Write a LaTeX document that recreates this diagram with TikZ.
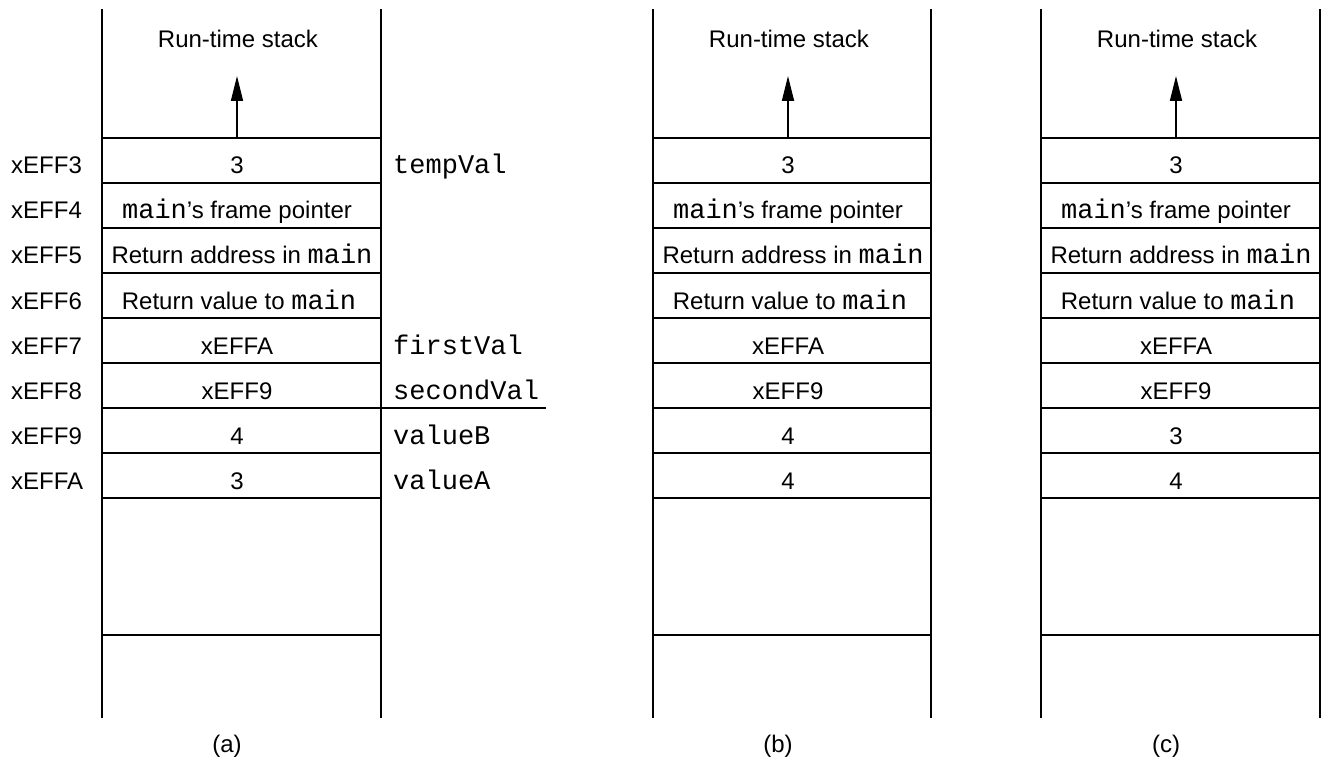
\documentclass[tikz,border=0pt]{standalone}
\usepackage{fontspec}
\setmainfont{Liberation Sans}
\setmonofont{Liberation Mono}
\usetikzlibrary{arrows.meta}
\newcommand\mn[1]{{\fontsize{27}{28}\selectfont\ttfamily #1}}
\begin{document}
\begin{tikzpicture}[x=1pt,y=-1pt,
  rule/.style={line width=1.7pt,line cap=rect},
  cell/.style={inner sep=0pt,anchor=base,font=\fontsize{24}{28}\selectfont},
  addr/.style={inner sep=0pt,anchor=base west,font=\fontsize{24}{28}\selectfont},
  var/.style={inner sep=0pt,anchor=base west,font=\fontsize{27}{28}\selectfont\ttfamily},
  captxt/.style={inner sep=0pt,anchor=base,font=\fontsize{24}{28}\selectfont},
  growarrow/.style={line width=1.7pt,-{Triangle[length=25pt,width=12pt]}}]
\useasboundingbox (0,0) rectangle (1322,759);
% three stacks
\foreach \s/\L/\R/\lab/\ra/\rb in {a/102/381/(a)/4/3, b/653/931/(b)/4/4, c/1041/1320/(c)/3/4}{
  \draw[rule] (\L,10) -- (\L,717);
  \draw[rule] (\R,10) -- (\R,717);
  \foreach \k in {0,...,8}{
    \draw[rule] (\L,138+45*\k) -- (\R,138+45*\k);
  }
  \draw[rule] (\L,635) -- (\R,635);
  \node[cell] (\s title) at (\L+136,48) {Run-time stack};
  \node[cell] (\s0) at (\L+135,174) {3};
  \node[cell] (\s1) at (\L+135,219) {\mn{main}’s frame pointer};
  \node[cell] (\s2) at (\L+140,264) {Return address in \mn{main}};
  \node[cell] (\s3) at (\L+137,309) {Return value to \mn{main}};
  \node[cell] (\s4) at (\L+135,354) {xEFFA};
  \node[cell] (\s5) at (\L+135,399) {xEFF9};
  \node[cell] (\s6) at (\L+135,444) {\ra};
  \node[cell] (\s7) at (\L+135,489) {\rb};
  \coordinate (\s base) at (\L+135,138);
  \coordinate (\s tip) at (\L+135,76);
  \draw[growarrow] (\s base) -- (\s tip);
  \node[captxt] (\s cap) at (\L+125,752) {\lab};
}
% addresses
\foreach \k/\t in {0/xEFF3,1/xEFF4,2/xEFF5,3/xEFF6,4/xEFF7,5/xEFF8,6/xEFF9,7/xEFFA}{
  \node[addr] (ad\k) at (11,174+45*\k) {\t};
}
% variable names
\node[var] (v0) at (393,174) {tempVal};
\node[var] (v4) at (393,354) {firstVal};
\node[var] (v5) at (393,399) {secondVal};
\node[var] (v6) at (393,444) {valueB};
\node[var] (v7) at (393,489) {valueA};
\coordinate (sep) at (545,408);
\draw[rule] (381,408) -- (sep);
\end{tikzpicture}
\end{document}
